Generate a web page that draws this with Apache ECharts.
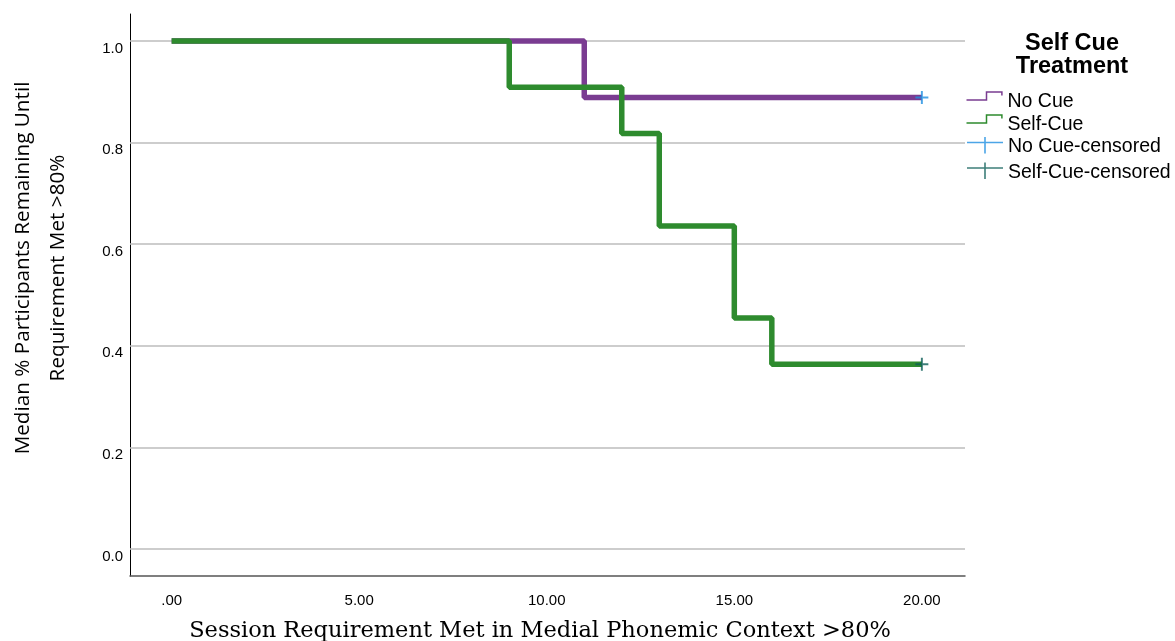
<!DOCTYPE html>
<html>
<head>
<meta charset="utf-8">
<title>Self Cue Treatment - survival</title>
<script src="https://cdn.jsdelivr.net/npm/echarts@6/dist/echarts.min.js"></script>
<style>
  html, body { margin: 0; padding: 0; background: #fff; }
  #main { width: 1175px; height: 641px; }
</style>
</head>
<body>
<div id="main"></div>
<script type="text/javascript">
    // values
    var noCueTime = [0, 11, 20];
    var noCueSurv = [1.0, 0.889, 0.889];
    var selfCueTime = [0, 9, 12, 13, 15, 16, 20];
    var selfCueSurv = [1.0, 0.909, 0.818, 0.636, 0.4545, 0.3636, 0.3636];
    var noCueCensored = [[20, 0.889]];
    var selfCueCensored = [[20, 0.3636]];
    var xTicks = [0, 5, 10, 15, 20];
    var yTicks = [0, 0.2, 0.4, 0.6, 0.8, 1.0];
    var legendNames = ['No Cue', 'Self-Cue', 'No Cue-censored', 'Self-Cue-censored'];

    function pairs(t, s) {
        var out = [];
        for (var i = 0; i < t.length; i++) out.push([t[i], s[i]]);
        return out;
    }

    // legend icons (box 36 x 20, extra moves keep the box size)
    var stepIcon = 'path://M0,0 M36,20 M0,8.5 L20,8.5 L20,0.6 L35.4,0.6 L35.4,4';
    var plusIcon = 'path://M0,0 M36,20 M0,4.7 L17.2,4.7 L17.2,0 L18.8,0 L18.8,4.7 L36,4.7 L36,6.3 L18.8,6.3 L18.8,16.5 L17.2,16.5 L17.2,6.3 L0,6.3 Z';
    var plusMark = 'path://M5.1,0 L6.9,0 L6.9,5.1 L12,5.1 L12,6.9 L6.9,6.9 L6.9,12 L5.1,12 L5.1,6.9 L0,6.9 L0,5.1 L5.1,5.1 Z';

    var legendItems = [
        { name: legendNames[0], icon: stepIcon, itemStyle: { color: 'none', borderColor: '#7a3c91', borderWidth: 1.5 } },
        { name: legendNames[1], icon: stepIcon, itemStyle: { color: 'none', borderColor: '#2e8b2e', borderWidth: 1.5 } },
        { name: legendNames[2], icon: plusIcon, itemStyle: { color: '#1e8fe1', borderWidth: 0 } },
        { name: legendNames[3], icon: plusIcon, itemStyle: { color: '#0d5e58', borderWidth: 0 } }
    ];
    var legendTops = [89, 112, 137, 162.5];
    var legendLefts = [964, 964, 967, 967];
    var legends = legendItems.map(function (item, i) {
        return {
            orient: 'vertical',
            left: legendLefts[i],
            top: legendTops[i],
            padding: 0,
            itemWidth: 36,
            itemHeight: 20,
            textStyle: { fontFamily: 'Liberation Sans, Arial', fontSize: 19.5, lineHeight: 20, color: '#000' },
            data: [item]
        };
    });

    var chart = echarts.init(document.getElementById('main'));
    chart.setOption({
        animation: false,
        title: {
            text: 'Self Cue\nTreatment',
            left: 1067,
            top: 27,
            textAlign: 'center',
            textStyle: {
                fontFamily: 'Liberation Sans, Arial',
                fontSize: 23.5,
                fontWeight: 'bold',
                lineHeight: 23,
                color: '#000'
            }
        },
        legend: legends,
        grid: { left: 130, right: 210, top: 14, bottom: 65, containLabel: false, outerBoundsMode: 'none' },
        xAxis: {
            type: 'value',
            min: -1.11,
            max: 21.15,
            name: 'Session Requirement Met in Medial Phonemic Context >80%',
            nameLocation: 'middle',
            nameGap: 44,
            nameTextStyle: { fontFamily: 'DejaVu Serif', fontSize: 22.5, color: '#000', padding: [0, 15, 0, 0] },
            axisLine: { onZero: false, lineStyle: { color: '#555', width: 1.5 } },
            axisTick: { show: false },
            splitLine: { show: false },
            axisLabel: {
                customValues: xTicks,
                margin: 17,
                fontFamily: 'Liberation Sans, Arial',
                fontSize: 15,
                color: '#000',
                formatter: function (v) { return v === 0 ? '.00' : v.toFixed(2); }
            }
        },
        yAxis: {
            type: 'value',
            min: -0.0532,
            max: 1.0532,
            name: 'Median % Participants Remaining Until\nRequirement Met >80%',
            nameLocation: 'middle',
            nameRotate: 90,
            nameGap: 54,
            nameTextStyle: { fontFamily: 'Open Sans', fontSize: 20.7, lineHeight: 35, color: '#000', padding: [0, 0, 0, 54] },
            axisLine: { show: true, onZero: false, lineStyle: { color: '#000', width: 1 } },
            axisTick: { show: false },
            splitLine: { show: false },
            axisLabel: {
                customValues: yTicks,
                margin: 7,
                verticalAlign: 'top',
                fontFamily: 'Liberation Sans, Arial',
                fontSize: 15,
                color: '#000',
                formatter: function (v) { return v.toFixed(1); }
            }
        },
        series: [
            {
                name: 'gridlines',
                type: 'line',
                data: [],
                silent: true,
                z: 1,
                markLine: {
                    silent: true,
                    z: 1,
                    symbol: 'none',
                    label: { show: false },
                    lineStyle: { color: '#bcbcbc', width: 1.5, type: 'solid' },
                    data: yTicks.map(function (v) { return { yAxis: v }; })
                }
            },
            {
                name: legendNames[0],
                type: 'line',
                step: 'end',
                z: 3,
                showSymbol: false,
                lineStyle: { color: '#7a3c91', width: 5.5 },
                itemStyle: { color: '#7a3c91' },
                data: pairs(noCueTime, noCueSurv)
            },
            {
                name: legendNames[1],
                type: 'line',
                step: 'end',
                z: 4,
                showSymbol: false,
                lineStyle: { color: '#2e8b2e', width: 5.5 },
                itemStyle: { color: '#2e8b2e' },
                data: pairs(selfCueTime, selfCueSurv)
            },
            {
                name: legendNames[2],
                type: 'scatter',
                z: 5,
                symbol: plusMark,
                symbolSize: 13,
                itemStyle: { color: '#1e8fe1' },
                data: noCueCensored
            },
            {
                name: legendNames[3],
                type: 'scatter',
                z: 5,
                symbol: plusMark,
                symbolSize: 13,
                itemStyle: { color: '#0d5e58' },
                data: selfCueCensored
            }
        ]
    });
</script>
</body>
</html>
